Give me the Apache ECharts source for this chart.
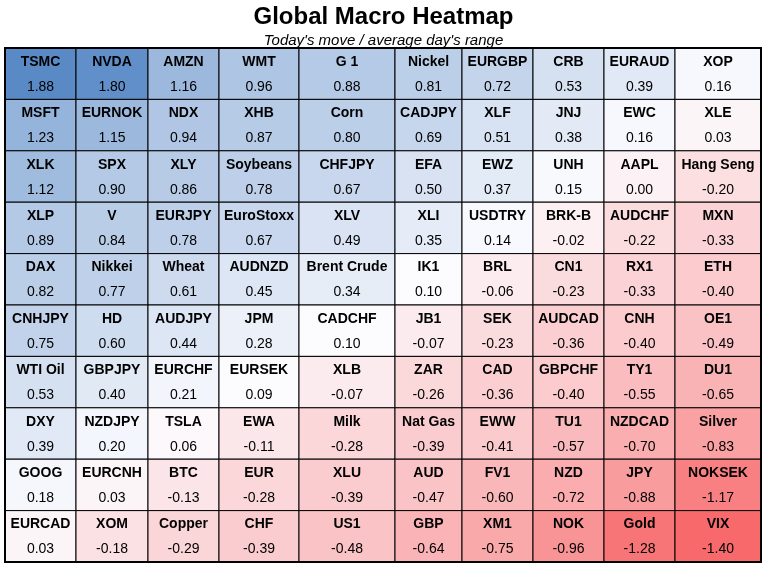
<!DOCTYPE html>
<html>
<head>
<meta charset="utf-8">
<title>Global Macro Heatmap</title>
<script src="https://cdn.jsdelivr.net/npm/echarts@6/dist/echarts.min.js"></script>
<style>
  html, body { margin: 0; padding: 0; background: #fff; }
  #chart { width: 767px; height: 576px; }
</style>
</head>
<body>
<div id="chart"></div>
<script>
// tickers and today's move / average day's range, one array per table row
var tickers = [
  ['TSMC', 'NVDA', 'AMZN', 'WMT', 'G 1', 'Nickel', 'EURGBP', 'CRB', 'EURAUD', 'XOP'],
  ['MSFT', 'EURNOK', 'NDX', 'XHB', 'Corn', 'CADJPY', 'XLF', 'JNJ', 'EWC', 'XLE'],
  ['XLK', 'SPX', 'XLY', 'Soybeans', 'CHFJPY', 'EFA', 'EWZ', 'UNH', 'AAPL', 'Hang Seng'],
  ['XLP', 'V', 'EURJPY', 'EuroStoxx', 'XLV', 'XLI', 'USDTRY', 'BRK-B', 'AUDCHF', 'MXN'],
  ['DAX', 'Nikkei', 'Wheat', 'AUDNZD', 'Brent Crude', 'IK1', 'BRL', 'CN1', 'RX1', 'ETH'],
  ['CNHJPY', 'HD', 'AUDJPY', 'JPM', 'CADCHF', 'JB1', 'SEK', 'AUDCAD', 'CNH', 'OE1'],
  ['WTI Oil', 'GBPJPY', 'EURCHF', 'EURSEK', 'XLB', 'ZAR', 'CAD', 'GBPCHF', 'TY1', 'DU1'],
  ['DXY', 'NZDJPY', 'TSLA', 'EWA', 'Milk', 'Nat Gas', 'EWW', 'TU1', 'NZDCAD', 'Silver'],
  ['GOOG', 'EURCNH', 'BTC', 'EUR', 'XLU', 'AUD', 'FV1', 'NZD', 'JPY', 'NOKSEK'],
  ['EURCAD', 'XOM', 'Copper', 'CHF', 'US1', 'GBP', 'XM1', 'NOK', 'Gold', 'VIX']
];
var moves = [
  [1.88, 1.80, 1.16, 0.96, 0.88, 0.81, 0.72, 0.53, 0.39, 0.16],
  [1.23, 1.15, 0.94, 0.87, 0.80, 0.69, 0.51, 0.38, 0.16, 0.03],
  [1.12, 0.90, 0.86, 0.78, 0.67, 0.50, 0.37, 0.15, 0.00, -0.20],
  [0.89, 0.84, 0.78, 0.67, 0.49, 0.35, 0.14, -0.02, -0.22, -0.33],
  [0.82, 0.77, 0.61, 0.45, 0.34, 0.10, -0.06, -0.23, -0.33, -0.40],
  [0.75, 0.60, 0.44, 0.28, 0.10, -0.07, -0.23, -0.36, -0.40, -0.49],
  [0.53, 0.40, 0.21, 0.09, -0.07, -0.26, -0.36, -0.40, -0.55, -0.65],
  [0.39, 0.20, 0.06, -0.11, -0.28, -0.39, -0.41, -0.57, -0.70, -0.83],
  [0.18, 0.03, -0.13, -0.28, -0.39, -0.47, -0.60, -0.72, -0.88, -1.17],
  [0.03, -0.18, -0.29, -0.39, -0.48, -0.64, -0.75, -0.96, -1.28, -1.40]
];
var rowLabels = ['1', '2', '3', '4', '5', '6', '7', '8', '9', '10'];

// column widths of the sheet (layout only)
var colWidths = [71, 72, 71, 80, 96, 67, 71, 71, 71, 86];
var colStart = [0];
for (var i = 0; i < colWidths.length; i++) colStart.push(colStart[i] + colWidths[i]);

// three colour scale: min red, median white, max blue
var flat = [];
moves.forEach(function (r) { flat = flat.concat(r); });
var sorted = flat.slice().sort(function (a, b) { return a - b; });
var vMin = sorted[0], vMax = sorted[sorted.length - 1];
var vMid = (sorted[sorted.length / 2 - 1] + sorted[sorted.length / 2]) / 2;
var cLow = [248, 105, 107], cMid = [252, 252, 255], cHigh = [90, 138, 198];

function mix(a, b, t) {
  return 'rgb(' + a.map(function (v, k) { return Math.round(v + (b[k] - v) * t); }).join(',') + ')';
}
function colorFor(v) {
  if (v <= vMid) return mix(cLow, cMid, (v - vMin) / (vMid - vMin));
  return mix(cMid, cHigh, (v - vMid) / (vMax - vMid));
}

var cells = [];
for (var r = 0; r < tickers.length; r++) {
  for (var c = 0; c < tickers[r].length; c++) {
    cells.push([c, r, moves[r][c], tickers[r][c]]);
  }
}

var chart = echarts.init(document.getElementById('chart'));
var option = {
  backgroundColor: '#fff',
  animation: false,
  title: {
    text: 'Global Macro Heatmap',
    subtext: "Today's move / average day's range",
    left: 'center',
    top: 0,
    itemGap: 4,
    textStyle: {
      fontFamily: '"Liberation Sans", Arial, sans-serif',
      fontSize: 24, fontWeight: 'bold', color: '#000'
    },
    subtextStyle: {
      fontFamily: '"Liberation Sans", Arial, sans-serif',
      fontSize: 15, fontStyle: 'italic', color: '#000'
    }
  },
  grid: {
    left: 5, right: 6, top: 48, bottom: 14,
    show: true, borderColor: '#000', borderWidth: 2, backgroundColor: 'transparent', z: 10
  },
  xAxis: {
    type: 'value', min: 0, max: colStart[colStart.length - 1],
    show: false
  },
  yAxis: {
    type: 'category', data: rowLabels, inverse: true, show: false
  },
  series: [{
    type: 'custom',
    data: cells,
    encode: { x: 0, y: 1 },
    renderItem: function (params, api) {
      var col = api.value(0), row = api.value(1), val = api.value(2);
      var name = cells[params.dataIndex][3];
      var p0 = api.coord([colStart[col], row]);
      var p1 = api.coord([colStart[col + 1], row]);
      var h = api.size([0, 1])[1];
      var x = p0[0], w = p1[0] - p0[0], y = p0[1] - h / 2;
      return {
        type: 'group',
        children: [{
          type: 'rect',
          shape: { x: x, y: y, width: w, height: h },
          style: { fill: colorFor(val), stroke: '#000', lineWidth: 1 }
        }, {
          type: 'text',
          style: {
            x: x + w / 2, y: y + 14, text: name,
            align: 'center', verticalAlign: 'middle',
            font: 'bold 14px "Liberation Sans", Arial, sans-serif', fill: '#000'
          }
        }, {
          type: 'text',
          style: {
            x: x + w / 2, y: y + 39, text: val.toFixed(2),
            align: 'center', verticalAlign: 'middle',
            font: '14px "Liberation Sans", Arial, sans-serif', fill: '#000'
          }
        }]
      };
    }
  }]
};
chart.setOption(option);
</script>
</body>
</html>
